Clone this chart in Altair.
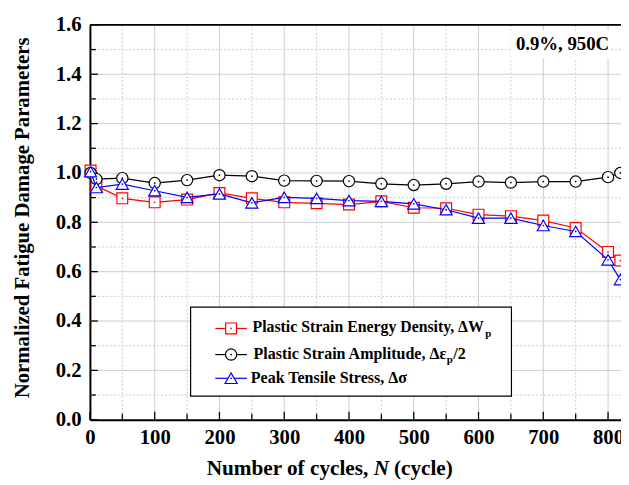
import altair as alt
import pandas as pd

# ---------------- data ----------------
cycles = [1, 10, 50, 100, 150, 200, 250, 300, 350, 400, 450, 500, 550, 600, 650, 700, 750, 800, 819]
energy = [1.01, 0.948, 0.897, 0.881, 0.892, 0.919, 0.897, 0.881, 0.877, 0.872, 0.885, 0.859,
          0.857, 0.831, 0.825, 0.807, 0.777, 0.680, 0.645]
amplitude = [1.0, 0.975, 0.979, 0.959, 0.971, 0.991, 0.987, 0.969, 0.968, 0.967, 0.956, 0.951,
             0.956, 0.965, 0.961, 0.965, 0.965, 0.983, 1.0]
stress = [1.005, 0.941, 0.955, 0.928, 0.901, 0.915, 0.879, 0.901, 0.897, 0.888, 0.885, 0.875,
          0.851, 0.817, 0.817, 0.787, 0.763, 0.648, 0.568]

x_major = [0, 100, 200, 300, 400, 500, 600, 700, 800]
x_minor = [50, 150, 250, 350, 450, 550, 650, 750]
y_major = [0.0, 0.2, 0.4, 0.6, 0.8, 1.0, 1.2, 1.4, 1.6]
y_minor = [0.1, 0.3, 0.5, 0.7, 0.9, 1.1, 1.3, 1.5]

legend_main = ["Plastic Strain Energy Density, \u0394W",
               "Plastic Strain Amplitude, \u0394\u03b5",
               "Peak Tensile Stress, \u0394\u03c3"]
annotation = "0.9%, 950C"
x_title = ["Number of cycles,", "N", "(cycle)"]
y_title = "Normalized Fatigue Damage Parameters"

FONT = "Liberation Serif"
W, H = 538, 400
GRID = "#cccccc"

xs = alt.Scale(domain=[0, 820], nice=False, zero=False)
ys = alt.Scale(domain=[0, 1.6], nice=False)

x_axis = alt.Axis(values=x_major, grid=False, ticks=False, tickSize=0, labelFont=FONT,
                  labelFontSize=21, labelFontWeight="bold", labelColor="black",
                  labelPadding=7, domainColor="black", domainWidth=2, title=None,
                  labelFlush=False, labelOverlap=False)
y_axis = alt.Axis(values=y_major, grid=False, ticks=False, tickSize=0, labelFont=FONT,
                  labelFontSize=21, labelFontWeight="bold", labelColor="black",
                  labelPadding=9, domainColor="black", domainWidth=2, format=".1f",
                  title=y_title, titleFont=FONT, titleFontSize=21, titleFontWeight="bold",
                  titleColor="black", titleAngle=-90, titleX=-68, titleY=195,
                  titleAlign="center", titleBaseline="middle", labelFlush=False,
                  labelOverlap=False)


def X(field):
    return alt.X(field, scale=xs, axis=x_axis)


def Y(field):
    return alt.Y(field, scale=ys, axis=y_axis)


# ---------------- grid ----------------
def vrule(vals, dash=None, color=GRID):
    kw = dict(color=color, strokeWidth=1)
    if dash:
        kw["strokeDash"] = dash
    return alt.Chart(pd.DataFrame({"v": vals})).mark_rule(**kw).encode(x=X("v:Q"))


def hrule(vals, dash=None, color=GRID):
    kw = dict(color=color, strokeWidth=1)
    if dash:
        kw["strokeDash"] = dash
    return alt.Chart(pd.DataFrame({"v": vals})).mark_rule(**kw).encode(y=Y("v:Q"))


grid_layers = [
    vrule(x_minor, dash=[2, 2]),
    hrule(y_minor, dash=[2, 2]),
    vrule(x_major[1:]),
    hrule(y_major[1:-1]),
]

# inward ticks
tick_layers = [
    alt.Chart(pd.DataFrame({"v": x_major})).mark_rule(color="black", strokeWidth=1.3).encode(
        x=X("v:Q"), y=alt.value(H), y2=alt.value(H - 8)),
    alt.Chart(pd.DataFrame({"v": x_minor})).mark_rule(color="black", strokeWidth=1.3).encode(
        x=X("v:Q"), y=alt.value(H), y2=alt.value(H - 6)),
    alt.Chart(pd.DataFrame({"v": y_major})).mark_rule(color="black", strokeWidth=1.3).encode(
        y=Y("v:Q"), x=alt.value(0), x2=alt.value(8)),
    alt.Chart(pd.DataFrame({"v": y_minor})).mark_rule(color="black", strokeWidth=1.3).encode(
        y=Y("v:Q"), x=alt.value(0), x2=alt.value(6)),
]

top_border = alt.Chart(pd.DataFrame({"t": [0]})).mark_rule(color="black", strokeWidth=2).encode(
    x=alt.value(0), x2=alt.value(W), y=alt.value(0))

# ---------------- series ----------------
series = [
    ("energy", energy, "#ff0000", "square", 120),
    ("amplitude", amplitude, "#000000", "circle", 130),
    ("stress", stress, "#0000ff", "triangle-up", 150),
]

series_layers = []
for name, vals, col, shp, sz in series:
    df = pd.DataFrame({"cycle": cycles, "value": vals})
    base = alt.Chart(df).encode(x=X("cycle:Q"), y=Y("value:Q"))
    series_layers.append(base.mark_line(color=col, strokeWidth=1.2))
    series_layers.append(base.mark_point(shape=shp, size=sz, filled=True, fill="white",
                                         stroke=col, strokeWidth=1.2, opacity=1))
    series_layers.append(base.mark_point(shape="circle", size=3, filled=True, color=col,
                                         opacity=1))


# ---------------- legend ----------------
def txt(s, x, y, size, align="left", italic=False, baseline="alphabetic"):
    kw = dict(font=FONT, fontSize=size, fontWeight="bold", color="black", align=align,
              baseline=baseline)
    if italic:
        kw["fontStyle"] = "italic"
    return alt.Chart(pd.DataFrame({"t": [s]})).mark_text(**kw).encode(
        text="t:N", x=alt.value(x), y=alt.value(y))


legend_layers = [
    alt.Chart(pd.DataFrame({"t": [0]})).mark_rect(fill="white", stroke="black",
                                                  strokeWidth=1.2).encode(
        x=alt.value(102), x2=alt.value(427), y=alt.value(286), y2=alt.value(376))
]
row_y = [307.5, 334, 358]
for i, (name, vals, col, shp, sz) in enumerate(series):
    yy = row_y[i]
    legend_layers.append(
        alt.Chart(pd.DataFrame({"t": [0]})).mark_rule(color=col, strokeWidth=1.2).encode(
            x=alt.value(127), x2=alt.value(159), y=alt.value(yy)))
    legend_layers.append(
        alt.Chart(pd.DataFrame({"t": [0]})).mark_point(shape=shp, size=sz, filled=True,
                                                       fill="white", stroke=col,
                                                       strokeWidth=1.2, opacity=1).encode(
            x=alt.value(143), y=alt.value(yy)))
    legend_layers.append(
        alt.Chart(pd.DataFrame({"t": [0]})).mark_point(shape="circle", size=3, filled=True,
                                                       color=col, opacity=1).encode(
            x=alt.value(143), y=alt.value(yy)))

legend_layers += [
    txt(legend_main[0], 399, 311.5, 16.0, align="right"),
    txt("p", 400.5, 316, 11),
    txt(legend_main[1], 361, 338.5, 16.2, align="right"),
    txt("p", 361.5, 343, 11),
    txt("/2", 368, 338.5, 16.2),
    txt(legend_main[2], 163, 362.5, 16.2),
]

# ---------------- annotation & x title ----------------
note_layers = [
    alt.Chart(pd.DataFrame({"t": [0]})).mark_rect(fill="white").encode(
        x=alt.value(426), x2=alt.value(527), y=alt.value(6), y2=alt.value(34)),
    txt(annotation, 526, 25, 19, align="right"),
    txt(x_title[0], 282, 456, 21.5, align="right"),
    txt(x_title[1], 287.5, 456, 21.5, italic=True),
    txt(x_title[2], 308, 456, 21.5),
]

chart = alt.layer(*(grid_layers + tick_layers + [top_border]
                    + series_layers + legend_layers + note_layers)).properties(
    width=W, height=H,
    autosize=alt.AutoSizeParams(type="none"),
    padding={"left": 83, "top": 14, "right": 0, "bottom": 62},
).configure_view(stroke=None).configure(background="white")

chart.save("out.html", embed_options={"renderer": "svg", "actions": False})
